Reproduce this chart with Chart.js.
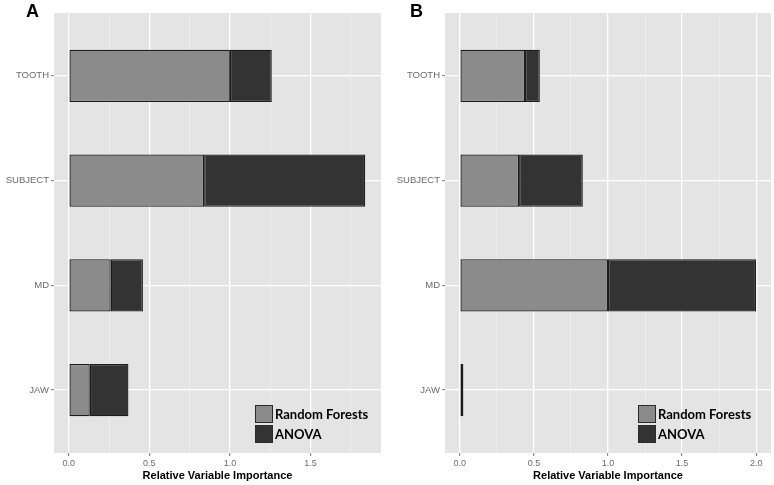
<!DOCTYPE html>
<html>
<head>
<meta charset="utf-8">
<script src="https://cdn.jsdelivr.net/npm/chart.js@4.4.1/dist/chart.umd.min.js"></script>
<style>
  html, body { margin: 0; padding: 0; background: #ffffff; }
  #wrap { position: relative; width: 774px; height: 485px; overflow: hidden; }
  .panel { position: absolute; top: 0; width: 387px; height: 485px; }
  .letter { position: absolute; top: 1px; font-family: "Liberation Sans", Arial, sans-serif; font-weight: bold; font-size: 18px; color: #000; }
</style>
</head>
<body>
<div id="wrap">
  <div class="panel" style="left:0px"><canvas id="chartA" width="387" height="485"></canvas></div>
  <div class="panel" style="left:387px"><canvas id="chartB" width="387" height="485"></canvas></div>
  <div class="letter" style="left:26px">A</div>
  <div class="letter" style="left:410px">B</div>
</div>
<script>
// ---- data ----
const categories = ['TOOTH', 'SUBJECT', 'MD', 'JAW'];
const seriesNames = ['Random Forests', 'ANOVA'];
const rfA = [1.00, 0.84, 0.26, 0.13];
const anovaA = [0.26, 1.00, 0.20, 0.24];
const rfB = [0.44, 0.40, 1.00, 0.008];
const anovaB = [0.10, 0.43, 1.00, 0.016];
const xMajorA = [0, 0.5, 1.0, 1.5];
const xMajorB = [0, 0.5, 1.0, 1.5, 2.0];
const xRangeA = [-0.092, 1.938];
const xRangeB = [-0.1, 2.1];
const axisTitle = 'Relative Variable Importance';

const RF_COLOR = '#8b8b8b';
const ANOVA_COLOR = '#333333';

const panelBg = {
  id: 'panelBg',
  beforeDraw(chart) {
    const { ctx, chartArea: { left, top, width, height } } = chart;
    ctx.save();
    ctx.fillStyle = '#e4e4e4';
    ctx.fillRect(left, top, width, height);
    ctx.restore();
  }
};

const insideLegend = {
  id: 'insideLegend',
  afterDraw(chart, args, opts) {
    const { ctx, chartArea } = chart;
    const x = chartArea.right - opts.fromRight;
    const y0 = chartArea.bottom - opts.fromBottom;
    ctx.save();
    chart.data.datasets.forEach((ds, i) => {
      const y = y0 + i * 20;
      ctx.fillStyle = ds.backgroundColor;
      ctx.fillRect(x, y, 18, 18);
      ctx.strokeStyle = '#2a2a2a';
      ctx.lineWidth = 1;
      ctx.strokeRect(x + 0.5, y + 0.5, 17, 17);
      ctx.fillStyle = '#000';
      ctx.font = 'bold 13px Lato, "Open Sans", sans-serif';
      ctx.textBaseline = 'middle';
      ctx.textAlign = 'left';
      ctx.fillText(ds.label, x + 20, y + 9.5);
    });
    ctx.restore();
  }
};

function makeTicks(majors, max) {
  const vals = majors.slice();
  const step = majors.length > 1 ? majors[1] - majors[0] : 0.5;
  for (let i = 0; i < majors.length; i++) {
    const mid = majors[i] + step / 2;
    if (mid < max) vals.push(mid);
  }
  return vals.sort((a, b) => a - b);
}
function isMajor(v, majors) { return majors.some(m => Math.abs(m - v) < 1e-9); }

function makeChart(id, rf, anova, majors, range, opts) {
  const ticks = makeTicks(majors, range[1]);
  return new Chart(document.getElementById(id), {
    type: 'bar',
    data: {
      datasets: [
        {
          label: seriesNames[0],
          data: categories.map((c, i) => ({ x: rf[i], y: i + 1 })),
          backgroundColor: RF_COLOR,
          borderColor: '#1c1c1c',
          borderWidth: 1.3,
          borderSkipped: false,
          categoryPercentage: 1,
          barPercentage: 0.5
        },
        {
          label: seriesNames[1],
          data: categories.map((c, i) => ({ x: anova[i], y: i + 1 })),
          backgroundColor: ANOVA_COLOR,
          borderColor: '#1c1c1c',
          borderWidth: 1.3,
          borderSkipped: false,
          categoryPercentage: 1,
          barPercentage: 0.5
        }
      ]
    },
    options: {
      indexAxis: 'y',
      responsive: false,
      animation: false,
      layout: { padding: { top: 13, right: opts.padRight, left: 0, bottom: 0 } },
      plugins: {
        legend: { display: false },
        tooltip: { enabled: false },
        insideLegend: { fromRight: opts.legRight, fromBottom: 48 }
      },
      scales: {
        x: {
          type: 'linear',
          stacked: true,
          min: range[0],
          max: range[1],
          offset: false,
          afterBuildTicks(scale) { scale.ticks = ticks.map(v => ({ value: v })); },
          afterFit(scale) { scale.height = 32; },
          border: { display: false },
          grid: {
            offset: false,
            color: ctx => isMajor(ctx.tick.value, majors) ? '#ffffff' : '#f1f1f1',
            lineWidth: ctx => isMajor(ctx.tick.value, majors) ? 1.3 : 0.7,
            tickLength: 3,
            tickColor: ctx => isMajor(ctx.tick.value, majors) ? '#777777' : 'rgba(0,0,0,0)',
            tickWidth: 1,
            drawOnChartArea: true
          },
          ticks: {
            autoSkip: false,
            maxRotation: 0,
            padding: 2,
            color: '#6a6a6a',
            font: { family: '"Liberation Sans", Arial, sans-serif', size: 9 },
            callback: v => isMajor(v, majors) ? v.toFixed(1) : ''
          },
          title: {
            display: true,
            text: axisTitle,
            color: '#000',
            font: { family: '"Liberation Sans", Arial, sans-serif', size: 11, weight: 'bold', lineHeight: 1.2 },
            padding: { top: 0, bottom: 2 }
          }
        },
        y: {
          type: 'linear',
          stacked: true,
          reverse: true,
          offset: false,
          min: 0.4,
          max: categories.length + 0.6,
          afterBuildTicks(scale) { scale.ticks = categories.map((c, i) => ({ value: i + 1 })); },
          afterFit(scale) { scale.width = opts.yWidth; },
          border: { display: false },
          grid: {
            offset: false,
            color: '#ffffff',
            lineWidth: 1.3,
            tickLength: 3,
            tickColor: '#777777',
            tickWidth: 1
          },
          ticks: {
            autoSkip: false,
            padding: 2,
            color: '#6a6a6a',
            font: { family: '"Liberation Sans", Arial, sans-serif', size: 9.5 },
            callback: v => categories[Math.round(v) - 1] || ''
          }
        }
      }
    },
    plugins: [panelBg, insideLegend]
  });
}

makeChart('chartA', rfA, anovaA, xMajorA, xRangeA, { padRight: 6, yWidth: 54, legRight: 126 });
makeChart('chartB', rfB, anovaB, xMajorB, xRangeB, { padRight: 3, yWidth: 58, legRight: 133 });
</script>
</body>
</html>
